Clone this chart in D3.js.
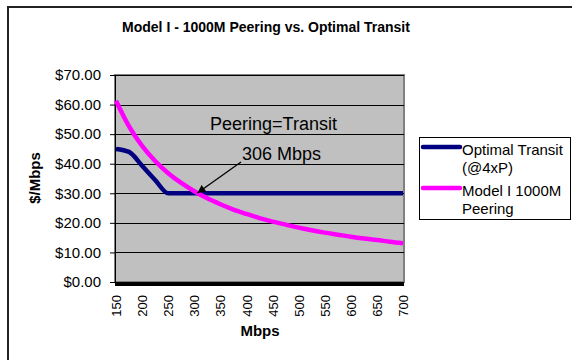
<!DOCTYPE html>
<html><head><meta charset="utf-8">
<script src="https://cdn.jsdelivr.net/npm/d3@7"></script>
<style>body{margin:0;background:#fff}svg{display:block;font-family:Arial,"Liberation Sans",sans-serif}</style>
</head><body><svg id="c" width="572" height="360"></svg>
<script>
const mbps = [150,175,200,225,250,275,300,325,350,375,400,425,450,475,500,525,550,575,600,625,650,675,700];
const transit = [45,44,39.3,34.5,30,30,30,30,30,30,30,30,30,30,30,30,30,30,30,30,30,30,30];
const peering = [61.3,52.6,46.0,40.9,36.8,33.5,30.7,28.3,26.3,24.5,23.0,21.6,20.4,19.4,18.4,17.5,16.7,16.0,15.3,14.7,14.2,13.6,13.1];
const xTicks = [150,200,250,300,350,400,450,500,550,600,650,700];
const yTicks = [0,10,20,30,40,50,60,70];
const seriesNames = ["Optimal Transit|(@4xP)", "Model I 1000M|Peering"];
const colors = ["#000080", "#FF00FF"];

const svg = d3.select("#c");
const L = 115, R = 404, T = 75, B = 282;
const x = d3.scaleLinear().domain([150,700]).range([116,403]);
const y = d3.scaleLinear().domain([0,70]).range([B,T]);

// outer chart border
svg.append("rect").attr("x",8).attr("y",7).attr("width",640).attr("height",400)
  .attr("fill","none").attr("stroke","#222").attr("stroke-width",2);

// title
svg.append("text").attr("x",266).attr("y",32).attr("text-anchor","middle")
  .attr("font-weight","bold").attr("font-size",14).text("Model I - 1000M Peering vs. Optimal Transit");

// plot area
svg.append("rect").attr("x",L).attr("y",T).attr("width",R-L).attr("height",B-T)
  .attr("fill","#C0C0C0").attr("stroke","#808080").attr("stroke-width",2);

// gridlines
svg.append("g").selectAll("line").data(yTicks.filter(d=>d>0)).join("line")
  .attr("x1",L).attr("x2",R).attr("y1",d=>Math.round(y(d))+0.5).attr("y2",d=>Math.round(y(d))+0.5)
  .attr("stroke","#000").attr("stroke-width",1);

// y axis
const yAxis = d3.axisLeft(y).tickValues(yTicks).tickFormat(d=>"$"+d3.format(".2f")(d)).tickSize(5).tickPadding(9);
const gy = svg.append("g").attr("transform",`translate(${L},0)`).call(yAxis);
gy.select(".domain").attr("stroke","#000");
gy.selectAll(".tick line").attr("stroke","#000");
gy.selectAll("text").attr("font-size",15).attr("fill","#000").attr("font-family","Arial,'Liberation Sans',sans-serif");

// x axis
const xAxis = d3.axisBottom(x).tickValues(xTicks).tickSize(0).tickPadding(0);
const gx = svg.append("g").attr("transform",`translate(0,${B})`).call(xAxis);
gx.select(".domain").remove();
gx.selectAll("text").attr("font-size",13).attr("fill","#000").attr("font-family","Arial,'Liberation Sans',sans-serif")
  .attr("transform","rotate(-90)").attr("text-anchor","end").attr("dy","0.35em").attr("x",-13).attr("y",0);
svg.append("line").attr("x1",L).attr("x2",R).attr("y1",B+2).attr("y2",B+2).attr("stroke","#000").attr("stroke-width",4);

// axis titles
svg.append("text").attr("transform","translate(40,178) rotate(-90)").attr("text-anchor","middle")
  .attr("font-weight","bold").attr("font-size",15).text("$/Mbps");
svg.append("text").attr("x",260).attr("y",336).attr("text-anchor","middle")
  .attr("font-weight","bold").attr("font-size",15).text("Mbps");

// lines
const line = d3.line().x((d,i)=>x(mbps[i])).y(d=>y(d)).curve(d3.curveMonotoneX);
[transit, peering].forEach((s,i)=>{
  svg.append("path").datum(s).attr("d",line).attr("fill","none")
    .attr("stroke",colors[i]).attr("stroke-width",4.5).attr("stroke-linejoin","round");
});

// annotations
svg.append("text").attr("x",210).attr("y",130).attr("font-size",18).text("Peering=Transit");
svg.append("text").attr("x",242).attr("y",160).attr("font-size",18).text("306 Mbps");
svg.append("defs").append("marker").attr("id","ah").attr("viewBox","0 0 10 10").attr("refX",10).attr("refY",5)
  .attr("markerWidth",10).attr("markerHeight",8).attr("markerUnits","userSpaceOnUse").attr("orient","auto")
  .append("path").attr("d","M0,0L10,5L0,10z").attr("fill","#000");
svg.append("line").attr("x1",241).attr("y1",162).attr("x2",x(306)).attr("y2",y(30.1))
  .attr("stroke","#000").attr("stroke-width",1.3).attr("marker-end","url(#ah)");

// legend
svg.append("rect").attr("x",419.5).attr("y",137.5).attr("width",151).attr("height",82)
  .attr("fill","#fff").attr("stroke","#000").attr("stroke-width",1);
seriesNames.forEach((n,i)=>{
  const ly = [147,188][i];
  svg.append("line").attr("x1",423).attr("x2",460).attr("y1",ly).attr("y2",ly)
    .attr("stroke",colors[i]).attr("stroke-width",4.5).attr("stroke-linecap","round");
  n.split("|").forEach((t,j)=>{
    svg.append("text").attr("x",462).attr("y",ly+8+j*18).attr("font-size",15).text(t);
  });
});
</script></body></html>
